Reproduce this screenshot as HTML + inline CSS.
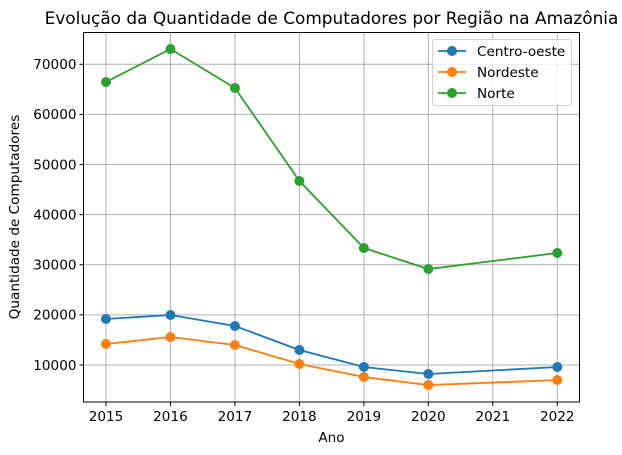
<!DOCTYPE html>
<html><head><meta charset="utf-8"><style>
body{margin:0;background:#fff}
svg{display:block;font-family:"DejaVu Sans","Liberation Sans",sans-serif}
</style></head><body>
<svg id="chart" width="622" height="455" viewBox="0 0 622 455">
<rect x="0" y="0" width="622" height="455" fill="#fff"/>
<text x="331.5" y="24" text-anchor="middle" font-size="16.9" fill="#000">Evolução da Quantidade de Computadores por Região na Amazônia</text>
<g id="grid"></g>
<g id="xticks"></g>
<g id="yticks"></g>
<g id="series"></g>
<rect x="83.5" y="32.5" width="496" height="369.5" fill="none" stroke="#000" stroke-width="1"/>
<text x="331.5" y="442" text-anchor="middle" font-size="13.6">Ano</text>
<text transform="translate(19,217) rotate(-90)" text-anchor="middle" font-size="13.6">Quantidade de Computadores</text>
<g id="legend"></g>
</svg>
<script>
const years = [2015, 2016, 2017, 2018, 2019, 2020, 2022];
const centroOeste = [19180, 19980, 17780, 12990, 9600, 8200, 9600];
const nordeste = [14190, 15590, 13990, 10200, 7600, 6000, 7000];
const norte = [66460, 73050, 65270, 46710, 33340, 29150, 32350];
const xTickLabels = [2015, 2016, 2017, 2018, 2019, 2020, 2021, 2022];
const yTickLabels = [10000, 20000, 30000, 40000, 50000, 60000, 70000];
const seriesNames = ["Centro-oeste", "Nordeste", "Norte"];

const NS = "http://www.w3.org/2000/svg";
const L = 83.5, R = 579.5, T = 32.5, B = 402;
function xs(v){ return 106 + (v - 2015) * 64.47; }
function ys(v){ return 365 - (v - 10000) * 0.005012; }
function mk(tag, attrs, parent){ const e = document.createElementNS(NS, tag); for (const k in attrs) e.setAttribute(k, attrs[k]); parent.appendChild(e); return e; }

const grid = document.getElementById('grid'), xg = document.getElementById('xticks'), yg = document.getElementById('yticks');
xTickLabels.forEach(t => {
  const x = xs(t);
  const gl = mk('line', {x1:x, x2:x, y1:T, y2:B, stroke:'#b0b0b0', 'stroke-width':1}, grid);
  
  
  const tk = mk('line', {x1:x, x2:x, y1:B, y2:B+4, stroke:'#000'}, xg);
  
  
  const tx = mk('text', {x:x, y:B+19, 'text-anchor':'middle', 'font-size':13.6}, xg);
  tx.textContent = t;
  
  
});
yTickLabels.forEach(t => {
  const y = ys(t);
  const gl = mk('line', {x1:L, x2:R, y1:y, y2:y, stroke:'#b0b0b0', 'stroke-width':1}, grid);
  
  
  const tk = mk('line', {x1:L-4, x2:L, y1:y, y2:y, stroke:'#000'}, yg);
  
  
  const tx = mk('text', {x:L-7, y:y+4.8, 'text-anchor':'end', 'font-size':13.6}, yg);
  tx.textContent = t;
  
  
});

const sg = document.getElementById('series');
const data = [centroOeste, nordeste, norte];
const colors = ['#1f77b4', '#ff7f0e', '#2ca02c'];
data.forEach((vals, i) => {
  const pts = vals.map((v, j) => xs(years[j]) + ',' + ys(v)).join(' ');
  const pl = mk('polyline', {points:pts, fill:'none', stroke:colors[i], 'stroke-width':1.8}, sg);
  
  
  vals.forEach((v, j) => {
    const c = mk('circle', {cx:xs(years[j]), cy:ys(v), r:5, fill:colors[i]}, sg);
    
    
  });
});

const lg = document.getElementById('legend');
const box = mk('rect', {x:432.5, y:39.5, width:139, height:66, rx:3, fill:'#fff', 'fill-opacity':0.8, stroke:'#d0d0d0'}, lg);


seriesNames.forEach((n, i) => {
  const y = 51 + i * 21;
  const ln = mk('line', {x1:438, x2:466, y1:y, y2:y, stroke:colors[i], 'stroke-width':1.8}, lg);
  
  
  const c = mk('circle', {cx:452, cy:y, r:5, fill:colors[i]}, lg);
  
  
  const t = mk('text', {x:477, y:y+4.8, 'font-size':13.6}, lg);
  t.textContent = n;
  
  
});
</script>
</body></html>
